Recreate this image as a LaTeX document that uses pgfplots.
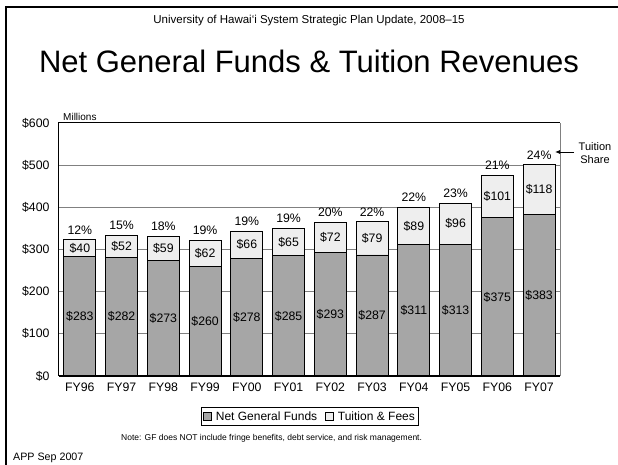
\documentclass[border=0pt]{standalone}
\usepackage{pgfplots}
\pgfplotsset{compat=1.18}
\usepackage{pgfplotstable}
\usepackage{fontspec}
\setmainfont{Liberation Sans}
\usetikzlibrary{arrows.meta}
\definecolor{gfgray}{HTML}{A6A6A6}
\definecolor{tugray}{HTML}{EEEEEE}
\definecolor{gridgray}{HTML}{808080}

\pgfplotstableread{
x gf tu pct
0 283 40 12
1 282 52 15
2 273 59 18
3 260 62 19
4 278 66 19
5 285 65 19
6 293 72 20
7 287 79 22
8 311 89 22
9 313 96 23
10 375 101 21
11 383 118 24
}\data

\begin{document}
\begin{tikzpicture}[x=1pt,y=1pt]
\fill[white] (0,0) rectangle (618,465);
\useasboundingbox (0,0) rectangle (618,465);
% slide frame
\draw[line width=2pt] (6,0) -- (6,458) -- (618,458);

\begin{axis}[
  at={(59pt,89pt)}, anchor=south west,
  scale only axis, width=501pt, height=253pt,
  xmin=-0.5, xmax=11.5, ymin=0, ymax=600,
  ybar stacked, bar width=32pt,
  axis line style={draw=none},
  major tick length=0pt,
  xtick={0,...,11},
  xticklabels={FY96,FY97,FY98,FY99,FY00,FY01,FY02,FY03,FY04,FY05,FY06,FY07},
  ytick={0,100,...,600},
  yticklabel={\$\pgfmathprintnumber{\tick}},
  /pgf/number format/assume math mode=true,
  ticklabel style={font=\fontsize{12.3}{14}\selectfont},
  yticklabel style={xshift=-6pt},
  xticklabel style={yshift=-3pt},
  ymajorgrids, grid style={gridgray, line width=1pt},
  legend columns=2,
  legend style={at={(0.501,-0.160)}, anchor=center, draw=black, line width=0.8pt,
    font=\fontsize{12}{14}\selectfont, inner sep=2pt,
    /tikz/every even column/.append style={column sep=0pt},
    /tikz/every odd column/.append style={column sep=0pt}},
  legend image code/.code={\draw[#1,line width=0.6pt] (1pt,-4pt) rectangle (9pt,4pt); \path (11pt,0pt);},
  clip=false,
  after end axis/.code={
    \draw[gridgray, line width=1pt] (rel axis cs:1,0) -- (rel axis cs:1,1);
    \draw[black, line width=1pt] (rel axis cs:0,0) -- (rel axis cs:0,1) -- (rel axis cs:1,1);
    \draw[black, line width=1.6pt] (rel axis cs:0,0) -- (rel axis cs:1,0);
  },
]
\addplot[fill=gfgray, draw=black, line width=0.8pt] table[x=x, y=gf] {\data};
\addlegendentry{Net General Funds\kern6pt}
\addplot[fill=tugray, draw=black, line width=0.8pt] table[x=x, y=tu] {\data};
\addlegendentry{Tuition \& Fees}
\end{axis}

\begin{axis}[
  at={(59pt,89pt)}, anchor=south west,
  scale only axis, width=501pt, height=253pt,
  xmin=-0.5, xmax=11.5, ymin=0, ymax=600,
  hide axis, clip=false,
]
\addplot[draw=none, mark=none, nodes near coords={\$\pgfplotspointmeta}, point meta=explicit symbolic,
  every node near coord/.append style={anchor=center, text=black, font=\fontsize{12.3}{14}\selectfont}]
  table[x=x, y expr=\thisrow{gf}/2, meta=gf] {\data};
\addplot[draw=none, mark=none, nodes near coords={\$\pgfplotspointmeta}, point meta=explicit symbolic,
  every node near coord/.append style={anchor=center, text=black, font=\fontsize{12.3}{14}\selectfont}]
  table[x=x, y expr=\thisrow{gf}+\thisrow{tu}/2, meta=tu] {\data};
\addplot[draw=none, mark=none, nodes near coords={\pgfplotspointmeta\%}, point meta=explicit symbolic,
  every node near coord/.append style={anchor=south, yshift=2pt, text=black, font=\fontsize{12.3}{14}\selectfont}]
  table[x=x, y expr=\thisrow{gf}+\thisrow{tu}, meta=pct] {\data};
\end{axis}

% texts
\node[anchor=base, font=\fontsize{11.5}{13}\selectfont] at (309,441) {University of Hawai‘i System Strategic Plan Update, 2008–15};
\node[anchor=base, font=\fontsize{31}{35}\selectfont] at (309,392) {Net General Funds \& Tuition Revenues};
\node[anchor=west, inner sep=0pt, font=\fontsize{10}{12}\selectfont] at (63,348) {Millions};
\draw[-{Latex[length=5pt,width=4pt]}, line width=0.8pt] (574,313) -- (555,313);
\node[align=center, inner sep=0pt, font=\fontsize{11}{12.7}\selectfont] at (595,312) {Tuition\\Share};
\node[anchor=west, inner sep=0pt, font=\fontsize{8.5}{10}\selectfont] at (121,27) {Note: GF does NOT include fringe benefits, debt service, and risk management.};
\node[anchor=west, inner sep=0pt, font=\fontsize{10.7}{12}\selectfont] at (13,7) {APP Sep 2007};
\end{tikzpicture}
\end{document}
